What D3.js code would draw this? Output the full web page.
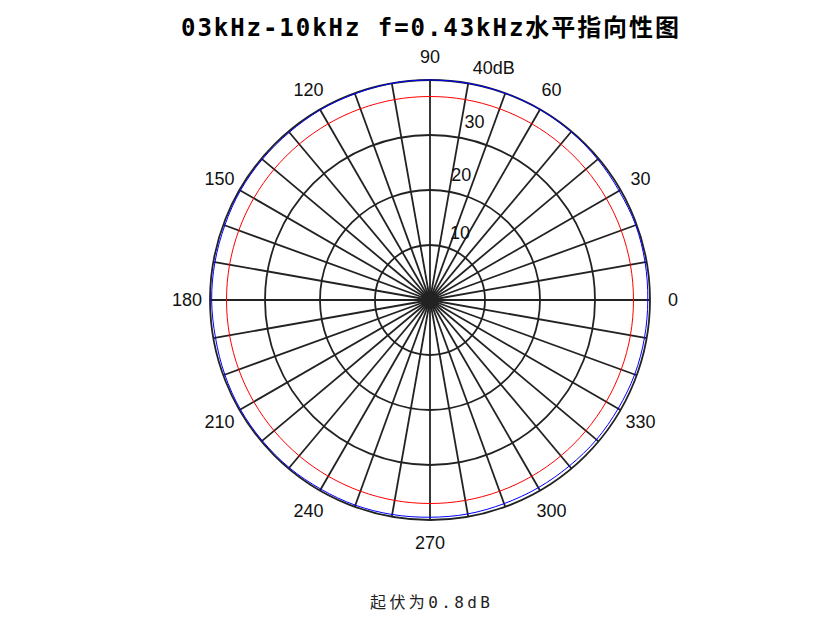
<!DOCTYPE html>
<html><head><meta charset="utf-8">
<script src="https://cdn.jsdelivr.net/npm/d3@7"></script>
<style>body{margin:0;background:#fff}</style>
</head><body>
<script>
// chart values
var angles = d3.range(0, 360, 10);
var ringLevels = [10, 20, 30, 40];
var ringLabels = ['10', '20', '30', '40dB'];
var angleLabels = [0, 30, 60, 90, 120, 150, 180, 210, 240, 270, 300, 330];
var measured = [39.6, 39.7, 39.8, 39.7, 39.8, 39.9, 40.0, 40.0, 40.0, 40.0,
	40.0, 39.9, 39.9, 39.8, 39.8, 39.8, 39.7, 39.7, 39.7, 39.6,
	39.7, 39.8, 39.8, 39.8, 39.7, 39.7, 39.6, 39.5, 39.5, 39.4,
	39.4, 39.4, 39.5, 39.5, 39.6, 39.6];
var reference = angles.map(function(){ return 37; });

var width = 831, height = 623, cx = 430, cy = 300;
var r = d3.scaleLinear().domain([0, 40]).range([0, 220]);

var svg = d3.select('body').append('svg')
	.attr('width', width)
	.attr('height', height)
	.style('font-family', 'Liberation Sans, Arial, sans-serif');

var g = svg.append('g').attr('transform', 'translate(' + cx + ',' + cy + ')');

function pt(deg, rad){
	var a = deg * Math.PI / 180;
	return [rad * Math.cos(a), -rad * Math.sin(a)];
}

// grid
g.selectAll('.ring').data(ringLevels).enter().append('circle')
	.attr('r', function(d){ return r(d); })
	.attr('fill', 'none').attr('stroke', '#222').attr('stroke-width', 1.8);

g.selectAll('.spoke').data(angles).enter().append('line')
	.attr('x1', 0).attr('y1', 0)
	.attr('x2', function(d){ return pt(d, r(40))[0]; })
	.attr('y2', function(d){ return pt(d, r(40))[1]; })
	.attr('stroke', '#222').attr('stroke-width', 1.8);

g.append('circle').attr('r', 9).attr('fill', '#222');

// series
var line = d3.lineRadial()
	.angle(function(d, i){ return Math.PI / 2 - angles[i] * Math.PI / 180; })
	.radius(function(d){ return r(d); })
	.curve(d3.curveCardinalClosed);

g.append('path').datum(reference).attr('d', line)
	.attr('fill', 'none').attr('stroke', '#ff0000').attr('stroke-width', 1);
g.append('path').datum(measured).attr('d', line)
	.attr('fill', 'none').attr('stroke', '#0000ff').attr('stroke-width', 1);

// labels
g.selectAll('.alab').data(angleLabels).enter().append('text')
	.attr('x', function(d){ return pt(d, 243)[0]; })
	.attr('y', function(d){ return pt(d, 243)[1]; })
	.attr('text-anchor', 'middle').attr('dy', '0.35em')
	.attr('font-size', 18).attr('fill', '#111')
	.text(function(d){ return d; });

g.selectAll('.rlab').data(ringLevels).enter().append('text')
	.attr('x', function(d, i){ return pt(i == 0 ? 66 : 76, r(d) + 19)[0] + (i == 3 ? 6 : 0); })
	.attr('y', function(d, i){ return pt(i == 0 ? 66 : 76, r(d) + 19)[1]; })
	.attr('text-anchor', 'middle').attr('dy', '0.35em')
	.attr('font-size', 18).attr('fill', '#111')
	.text(function(d, i){ return ringLabels[i]; });

svg.append('text').attr('x', cx).attr('y', 36)
	.attr('text-anchor', 'middle').attr('font-size', 24).attr('font-weight', 'bold')
	.attr('textLength', 498).attr('lengthAdjust', 'spacing')
	.style('font-family', 'DejaVu Sans Mono, Noto Sans CJK SC, monospace')
	.text('03kHz-10kHz f=0.43kHz水平指向性图');

svg.append('text').attr('x', cx).attr('y', 608)
	.attr('text-anchor', 'middle').attr('font-size', 16).attr('fill', '#222')
	.attr('textLength', 120).attr('lengthAdjust', 'spacing')
	.style('font-family', 'DejaVu Sans Mono, Noto Sans CJK SC, monospace')
	.text('起伏为0.8dB');
</script>
</body></html>
